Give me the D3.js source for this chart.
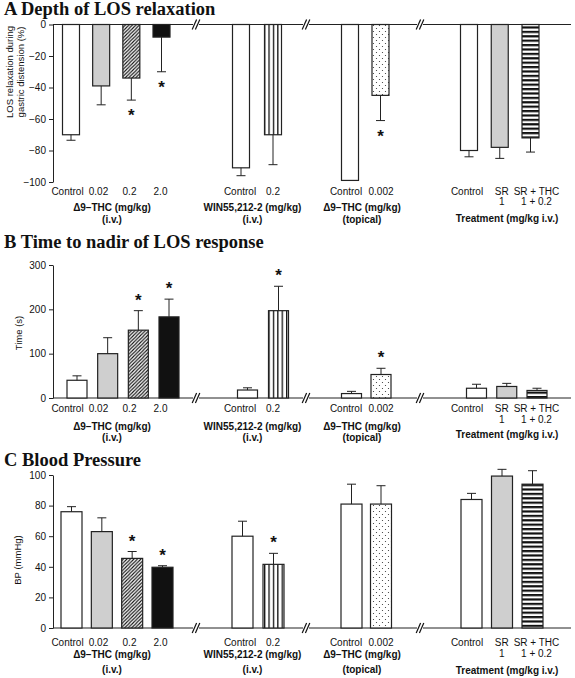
<!DOCTYPE html>
<html><head><meta charset="utf-8">
<script src="https://cdn.jsdelivr.net/npm/d3@7"></script>
<style>
body{margin:0;background:#fff}
svg{display:block}
text{font-family:"Liberation Sans",Arial,sans-serif;fill:#111}
</style>
</head><body>
<svg id="chart" width="575" height="678"></svg>
<script>
// ---------------- DATA ----------------
const groupNames = [["Δ9–THC (mg/kg)","(i.v.)"],["WIN55,212-2 (mg/kg)","(i.v.)"],["Δ9–THC (mg/kg)","(topical)"],["Treatment (mg/kg i.v.)"]];
const thcIvCats = ["Control","0.02","0.2","2.0"];
const winCats = ["Control","0.2"];
const thcTopCats = ["Control","0.002"];
const treatCats = [["Control"],["SR","1"],["SR + THC","1 + 0.2"]];

const depthValues = [[-70,-39,-34,-8],[-91,-70],[-99,-45],[-80,-78,-72]];
const depthErrors = [[3.5,12,14,22],[5,19],[0,16],[4,7,9]];
const depthSig    = [[0,0,1,1],[0,0],[0,1],[0,0,0]];

const timeValues = [[40,100,153,183],[18,197],[10,53],[22,26,17]];
const timeErrors = [[10,36,44,40],[5,55],[5,14],[9,7,5]];
const timeSig    = [[0,0,1,1],[0,1],[0,1],[0,0,0]];

const bpValues = [[76,63,45.5,39.7],[60,41.6],[81,81],[84,99.3,94]];
const bpErrors = [[3.3,9,4.5,1],[9.8,7.2],[13,12],[4,4.4,8.8]];
const bpSig    = [[0,0,1,1],[0,1],[0,0],[0,0,0]];

const depthTicks = [0,-20,-40,-60,-80,-100];
const timeTicks = [0,100,200,300];
const bpTicks = [0,20,40,60,80,100];

// ---------------- LAYOUT / STYLE ----------------
const groupCats = [thcIvCats.map(d=>[d]), winCats.map(d=>[d]), thcTopCats.map(d=>[d]), treatCats];
const fills = [["white","gray","hatch","black"],["white","vstripe"],["white","dots"],["white","gray","hstripe"]];
const labelRanges = [[67.5,160.5],[240,273],[346,381],[467,536.5]];
const groupLabelX = [112,252.5,362,507];
const breaksX = [196,306,420];
const axisX = 53, axisRight = 571;

const panels = [
  {title:"A Depth of LOS relaxation", titleY:15, values:depthValues, errors:depthErrors, sig:depthSig,
   domain:[-100,0], range:[182,24.5], ticks:depthTicks,
   ylab:["LOS relaxation during","gastric distension (%)"], ylabX:[10,21], ylabY:72,
   barW:17, barRanges:[[71,161.5],[241,273],[350,380.5],[469,530.5]],
   rowY:195, row2Y:205, gY:211, g2Y:223, treatY:222},
  {title:"B Time to nadir of LOS response", titleY:248, values:timeValues, errors:timeErrors, sig:timeSig,
   domain:[0,300], range:[398,265], ticks:timeTicks,
   ylab:["Time (s)"], ylabX:[18.5], ylabY:333,
   barW:20, barRanges:[[77,169],[247.5,278.5],[351.5,381],[476.5,537]],
   rowY:412, row2Y:423, gY:430, g2Y:441, treatY:438},
  {title:"C Blood Pressure", titleY:466, values:bpValues, errors:bpErrors, sig:bpSig,
   domain:[0,100], range:[628,475], ticks:bpTicks,
   ylab:["BP (mmHg)"], ylabX:[18], ylabY:560,
   barW:21, barRanges:[[71.5,162.5],[242.5,273.5],[351.5,381],[471.5,532.5]],
   rowY:646, row2Y:657, gY:658, g2Y:673, treatY:674}
];

const svg = d3.select("#chart");
const defs = svg.append("defs");
// patterns
const pH = defs.append("pattern").attr("id","hatch").attr("patternUnits","userSpaceOnUse").attr("width",3.5).attr("height",3.5);
pH.append("rect").attr("width",3.5).attr("height",3.5).attr("fill","#fff");
pH.append("path").attr("d","M-1,1 L1,-1 M0,3.5 L3.5,0 M2.5,4.5 L4.5,2.5").attr("stroke","#111").attr("stroke-width",1.1);
const pV = defs.append("pattern").attr("id","vstripe").attr("patternUnits","userSpaceOnUse").attr("width",4.4).attr("height",10);
pV.append("rect").attr("width",4.4).attr("height",10).attr("fill","#fff");
pV.append("rect").attr("x",0).attr("width",1.3).attr("height",10).attr("fill","#111");
const pHs = defs.append("pattern").attr("id","hstripe").attr("patternUnits","userSpaceOnUse").attr("width",10).attr("height",4.4);
pHs.append("rect").attr("width",10).attr("height",4.4).attr("fill","#fff");
pHs.append("rect").attr("y",0).attr("width",10).attr("height",2.2).attr("fill","#111");
const pD = defs.append("pattern").attr("id","dots").attr("patternUnits","userSpaceOnUse").attr("width",6).attr("height",6);
pD.append("rect").attr("width",6).attr("height",6).attr("fill","#fff");
pD.append("circle").attr("cx",1.5).attr("cy",1.5).attr("r",0.6).attr("fill","#333");
pD.append("circle").attr("cx",4.5).attr("cy",4.5).attr("r",0.6).attr("fill","#333");

const fillOf = f => f==="white" ? "#fff" : f==="gray" ? "#cfcfcf" : f==="black" ? "#111" : `url(#${f})`;

panels.forEach(p => {
  const g = svg.append("g");
  const y = d3.scaleLinear().domain(p.domain).range(p.range);
  const y0 = y(0);

  g.append("text").attr("x",4).attr("y",p.titleY)
    .style("font-family","'Liberation Serif','Times New Roman',serif")
    .style("font-weight","bold").style("font-size","18.5px").text(p.title);

  // y axis
  const ax = g.append("g").attr("transform",`translate(${axisX},0)`)
    .call(d3.axisLeft(y).tickValues(p.ticks).tickSize(4).tickSizeOuter(0).tickPadding(3));
  ax.selectAll("path,line").attr("stroke","#222").attr("stroke-width",1);
  ax.selectAll("text").style("font-size","10px").style("font-family","'Liberation Sans',Arial,sans-serif").attr("fill","#111");

  // y label
  p.ylab.forEach((t,i) => {
    g.append("text").attr("transform",`translate(${p.ylabX[i]},${p.ylabY}) rotate(-90)`)
      .attr("text-anchor","middle").attr("dy","0.35em").style("font-size","9.5px").text(t);
  });

  // x axis line
  g.append("line").attr("x1",axisX).attr("x2",axisRight).attr("y1",y0).attr("y2",y0)
    .attr("stroke","#222").attr("stroke-width",1);

  // breaks
  breaksX.forEach(bx => {
    g.append("rect").attr("x",bx-3).attr("y",y0-2).attr("width",6).attr("height",4).attr("fill","#fff");
    [-1.6,1.6].forEach(o => g.append("line")
      .attr("x1",bx+o-2.2).attr("y1",y0+5).attr("x2",bx+o+2.2).attr("y2",y0-5)
      .attr("stroke","#111").attr("stroke-width",1.2));
  });

  groupCats.forEach((cats, gi) => {
    const keys = cats.map((c,i)=>i);
    const xb = d3.scalePoint().domain(keys).range(p.barRanges[gi]);
    const xl = d3.scalePoint().domain(keys).range(labelRanges[gi]);
    const vals = p.values[gi], errs = p.errors[gi], sig = p.sig[gi];

    keys.forEach(i => {
      const v = vals[i], e = errs[i], cx = xb(i);
      const yv = y(v);
      g.append("rect").attr("x",cx-p.barW/2).attr("width",p.barW)
        .attr("y",Math.min(yv,y0)).attr("height",Math.abs(yv-y0))
        .attr("fill",fillOf(fills[gi][i])).attr("stroke","#222").attr("stroke-width",1.2);
      const sign = v<0 ? -1 : 1;
      const ye = y(v + sign*e);
      if (e>0) {
        g.append("line").attr("x1",cx).attr("x2",cx).attr("y1",yv).attr("y2",ye).attr("stroke","#222").attr("stroke-width",1);
        g.append("line").attr("x1",cx-4.5).attr("x2",cx+4.5).attr("y1",ye).attr("y2",ye).attr("stroke","#222").attr("stroke-width",1);
      }
      if (sig[i]) {
        const starC = ye - sign*13;
        g.append("text").attr("x",cx).attr("y",starC+8).attr("text-anchor","middle")
          .style("font-size","17px").style("font-weight","bold").text("*");
      }
      cats[i].forEach((t,li) => {
        g.append("text").attr("x",xl(i)).attr("y",li===0?p.rowY:p.row2Y).attr("text-anchor","middle")
          .style("font-size","10px").text(t);
      });
    });
    groupNames[gi].forEach((t,li) => {
      const yy = gi===3 ? p.treatY : (li===0 ? p.gY : p.g2Y);
      g.append("text").attr("x",groupLabelX[gi]).attr("y",yy).attr("text-anchor","middle")
        .style("font-size","10px").style("font-weight","bold").text(t);
    });
  });
});
</script>
</body></html>
